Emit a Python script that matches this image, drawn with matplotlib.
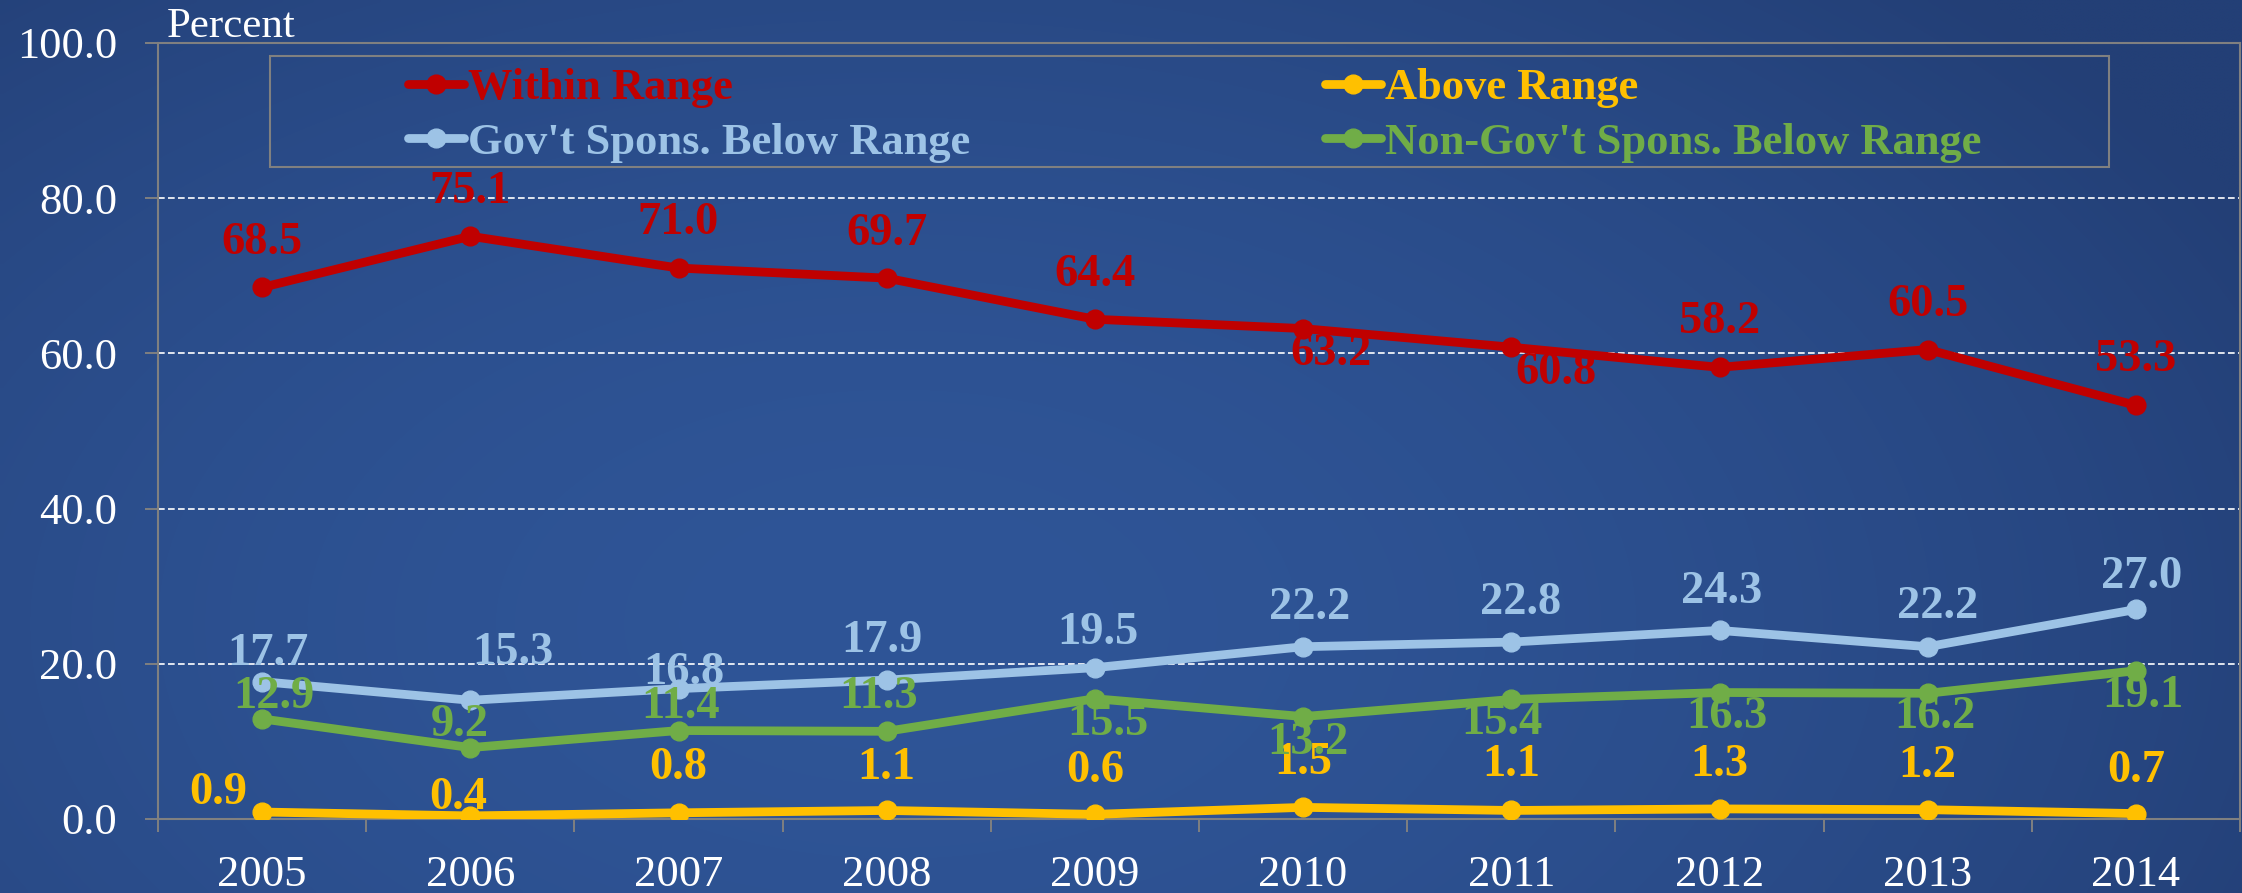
import numpy as np
import matplotlib
matplotlib.use('Agg')
from matplotlib import pyplot as plt
from matplotlib.patches import Rectangle

plt.rcParams['font.family'] = ['Liberation Serif', 'DejaVu Serif']

years = ['2005', '2006', '2007', '2008', '2009', '2010', '2011', '2012', '2013', '2014']
within_range = [68.5, 75.1, 71.0, 69.7, 64.4, 63.2, 60.8, 58.2, 60.5, 53.3]
above_range = [0.9, 0.4, 0.8, 1.1, 0.6, 1.5, 1.1, 1.3, 1.2, 0.7]
gov_below = [17.7, 15.3, 16.8, 17.9, 19.5, 22.2, 22.8, 24.3, 22.2, 27.0]
nongov_below = [12.9, 9.2, 11.4, 11.3, 15.5, 13.2, 15.4, 16.3, 16.2, 19.1]

# label offsets from the point, in pixels (dx, dy)
within_off = [(0, 44), (0, 44), (0, 45), (0, 44), (0, 44), (28, -25), (45, -26), (0, 45), (0, 45), (0, 45)]
above_off = [(-44, 19), (-12, 18), (0, 45), (0, 42), (0, 43), (0, 44), (0, 45), (0, 44), (0, 44), (0, 43)]
gov_off = [(6, 28), (43, 47), (5, 16), (-5, 39), (3, 35), (7, 39), (9, 39), (2, 38), (10, 40), (6, 32)]
nongov_off = [(12, 22), (-11, 23), (2, 24), (-8, 34), (13, -25), (5, -26), (-9, -24), (7, -24), (7, -24), (7, -25)]

RED = '#C00000'
YELLOW = '#FFC000'
LIGHT_BLUE = '#9DC3E6'
GREEN = '#70AD47'
GRAY = '#808080'
FS = 32

W, H = 2242, 893
fig = plt.figure(figsize=(W / 100, H / 100), dpi=100)

# background gradient
gx, gy = np.meshgrid(np.linspace(0, 1, 400), np.linspace(0, 1, 200))
center = np.array([47, 85, 151]) / 255
edge = np.array([35, 63, 118]) / 255
d = np.sqrt(((gx - 0.4) / 0.68) ** 2 + ((gy - 0.7) / 1.0) ** 2)
t = np.clip(d, 0, 1) ** 1.8
grad = center * (1 - t[..., None]) + edge * t[..., None]
bg_ax = fig.add_axes([0, 0, 1, 1], zorder=0)
bg_ax.imshow(grad, aspect='auto', extent=[0, 1, 0, 1], interpolation='bilinear')
bg_ax.axis('off')

ax = fig.add_axes([158 / W, 1 - 819 / H, (2240 - 158) / W, (819 - 43) / H], zorder=1)
ax.patch.set_alpha(0)

x = np.arange(len(years))
series = [
    (within_range, RED, 'Within Range', within_off),
    (above_range, YELLOW, 'Above Range', above_off),
    (gov_below, LIGHT_BLUE, "Gov't Spons. Below Range", gov_off),
    (nongov_below, GREEN, "Non-Gov't Spons. Below Range", nongov_off),
]
handles = []
for values, color, label, offsets in series:
    line, = ax.plot(x, values, color=color, lw=6.3, marker='o', markersize=13.5,
                    label=label, zorder=3, solid_capstyle='round')
    handles.append(line)
    for i, v in enumerate(values):
        ax.annotate('{:.1f}'.format(v), (i, v), xytext=offsets[i], textcoords='offset pixels',
                    ha='center', va='center', color=color, fontsize=33.5, fontweight='bold', zorder=5)

ax.set_xlim(-0.5, len(years) - 0.5)
ax.set_ylim(0, 100)
ax.set_yticks(np.arange(0, 101, 20))
ax.set_yticklabels(['{:.1f}'.format(v) for v in np.arange(0, 101, 20)])
ax.set_xticks(np.arange(-0.5, len(years), 1))
ax.set_xticks(x, minor=True)
ax.set_xticklabels(years, minor=True)
ax.tick_params(axis='x', which='major', direction='out', length=9, width=1.4, color=GRAY, labelbottom=False)
ax.tick_params(axis='x', which='minor', length=0, pad=26, labelsize=FS, labelcolor='white')
ax.tick_params(axis='y', direction='out', length=9.4, width=1.4, color=GRAY, pad=20, labelsize=FS,
               labelcolor='white')
ax.set_axisbelow(True)
ax.grid(axis='y', color='white', lw=1.2, linestyle=(0, (4, 2)))
for sp in ax.spines.values():
    sp.set_color(GRAY)
    sp.set_linewidth(1.5)

fig.text(167 / W, 1 - 37 / H, 'Percent', ha='left', va='baseline', fontsize=31, color='white')

# legend, two columns inside one frame
leg_props = dict(loc='upper left', frameon=False, prop={'size': FS, 'weight': 'bold'}, handlelength=1.26,
                 handletextpad=0.1, borderpad=0, borderaxespad=0, labelspacing=0.33, labelcolor='linecolor')
fig.legend([handles[0], handles[2]], [h.get_label() for h in (handles[0], handles[2])],
           bbox_to_anchor=(408 / W, 1 - 68 / H), **leg_props)
fig.legend([handles[1], handles[3]], [h.get_label() for h in (handles[1], handles[3])],
           bbox_to_anchor=(1325 / W, 1 - 68 / H), **leg_props)
fig.add_artist(Rectangle((270 / W, 1 - 167 / H), (2109 - 270) / W, (167 - 56) / H,
                         transform=fig.transFigure, fill=False, edgecolor=GRAY, lw=1.5))

fig.savefig('out.png', dpi=100)
